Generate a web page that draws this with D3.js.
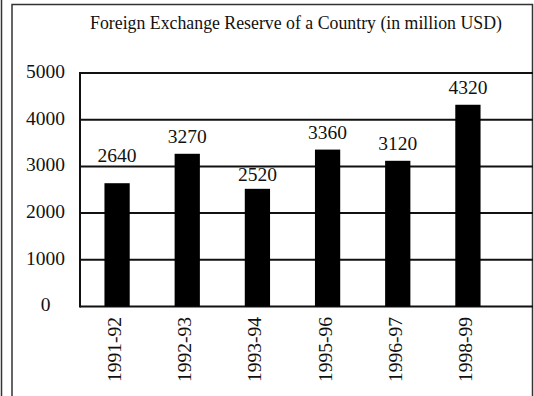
<!DOCTYPE html>
<html>
<head>
<meta charset="utf-8">
<script src="https://cdn.jsdelivr.net/npm/d3@7"></script>
<style>
  html, body { margin: 0; padding: 0; background: #fff; }
  svg { display: block; }
  text { font-family: "Liberation Serif", "Times New Roman", serif; fill: #111; }
</style>
</head>
<body>
<svg id="chart" width="534" height="396"></svg>
<script>
// Fiscal years shown on the horizontal axis
const years = ["1991-92", "1992-93", "1993-94", "1995-96", "1996-97", "1998-99"];
// Reserve in million USD for each year
const reserves = [2640, 3270, 2520, 3360, 3120, 4320];
// Values marked on the vertical axis
const yTicks = [0, 1000, 2000, 3000, 4000, 5000];
const title = "Foreign Exchange Reserve of a Country (in million USD)";

const svg = d3.select("#chart");
const W = 534, H = 396;
const plot = { left: 80, right: 533, top: 73, bottom: 306.5 };

// Page frame
svg.append("line").attr("x1", 1.5).attr("x2", 1.5).attr("y1", 0).attr("y2", H)
  .attr("stroke", "#333").attr("stroke-width", 1.5);
svg.append("rect").attr("x", 12).attr("y", 4.5).attr("width", 520.5).attr("height", H)
  .attr("fill", "none").attr("stroke", "#333").attr("stroke-width", 1.5);

const x = d3.scaleBand().domain(years).range([82, 503])
  .paddingInner(0.64).paddingOuter(0.32);
const y = d3.scaleLinear().domain([0, 5000]).range([plot.bottom, plot.top]);

// Title
svg.append("text").attr("x", 296).attr("y", 29).attr("text-anchor", "middle")
  .attr("font-size", 17.8).text(title);

// Horizontal grid lines at each tick
svg.append("g").selectAll("line").data(yTicks).join("line")
  .attr("x1", plot.left).attr("x2", plot.right)
  .attr("y1", d => y(d)).attr("y2", d => y(d))
  .attr("stroke", "#111").attr("stroke-width", 2);

// Left axis line
svg.append("line").attr("x1", plot.left).attr("x2", plot.left)
  .attr("y1", plot.top - 1).attr("y2", plot.bottom + 1)
  .attr("stroke", "#111").attr("stroke-width", 2);

// Y tick labels, centred in the left margin
svg.append("g").selectAll("text").data(yTicks).join("text")
  .attr("x", 45.5).attr("y", d => y(d) - 2).attr("dy", "0.35em")
  .attr("text-anchor", "middle").attr("font-size", 19.5).text(d => d);

// Bars
svg.append("g").selectAll("rect").data(reserves).join("rect")
  .attr("x", (d, i) => x(years[i]))
  .attr("width", x.bandwidth())
  .attr("y", d => y(d))
  .attr("height", d => y(0) - y(d))
  .attr("fill", "#000");

// Baseline for a value label: just above the bar, nudged off any grid line it would cross
const capH = 13.5;
function labelBaseline(v) {
  const top = y(v);
  let b = top - 11;
  const hit = yTicks.map(y).find(g => g > b - capH - 1 && g < b + 1);
  if (hit !== undefined) {
    const down = hit + capH + 1.5;
    const up = hit - 4;
    b = (down <= top - 4 && down - b < b - up) ? down : up;
  }
  return b;
}

// Value labels above bars
svg.append("g").selectAll("text").data(reserves).join("text")
  .attr("x", (d, i) => x(years[i]) + x.bandwidth() / 2)
  .attr("y", d => labelBaseline(d))
  .attr("text-anchor", "middle").attr("font-size", 19.5).text(d => d);

// Rotated category labels
svg.append("g").selectAll("text").data(years).join("text")
  .attr("transform", d => `translate(${x(d) + x.bandwidth() / 2 + 4},317) rotate(-90)`)
  .attr("text-anchor", "end").attr("font-size", 19.5).text(d => d);
</script>
</body>
</html>
